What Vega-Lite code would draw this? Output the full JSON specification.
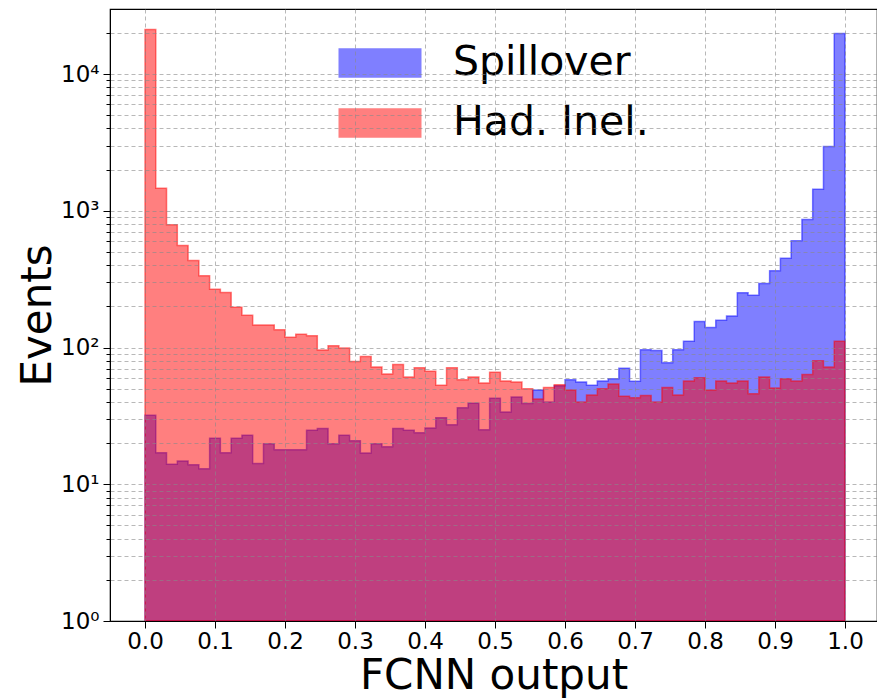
{
  "$schema": "https://vega.github.io/schema/vega-lite/v6.json",
  "width": 767,
  "height": 612,
  "autosize": {"type": "none"},
  "padding": {"left": 110, "top": 9, "right": 0, "bottom": 79},
  "background": "white",
  "config": {
    "font": "DejaVu Sans",
    "view": {"stroke": "#000", "strokeWidth": 1.2}
  },
  "data": {"values": [
    {"x0": 0, "x1": 0.01538, "S": 32, "H": 21200},
    {"x0": 0.01538, "x1": 0.03077, "S": 17, "H": 1460},
    {"x0": 0.03077, "x1": 0.04615, "S": 14, "H": 790},
    {"x0": 0.04615, "x1": 0.06154, "S": 14.8, "H": 557},
    {"x0": 0.06154, "x1": 0.07692, "S": 13.9, "H": 433},
    {"x0": 0.07692, "x1": 0.09231, "S": 13, "H": 335},
    {"x0": 0.09231, "x1": 0.10769, "S": 21.7, "H": 267},
    {"x0": 0.10769, "x1": 0.12308, "S": 17, "H": 253},
    {"x0": 0.12308, "x1": 0.13846, "S": 21.7, "H": 197},
    {"x0": 0.13846, "x1": 0.15385, "S": 22.8, "H": 172},
    {"x0": 0.15385, "x1": 0.16923, "S": 14.2, "H": 146},
    {"x0": 0.16923, "x1": 0.18462, "S": 19.8, "H": 146},
    {"x0": 0.18462, "x1": 0.2, "S": 17.9, "H": 135},
    {"x0": 0.2, "x1": 0.21538, "S": 17.9, "H": 119},
    {"x0": 0.21538, "x1": 0.23077, "S": 17.9, "H": 125},
    {"x0": 0.23077, "x1": 0.24615, "S": 24.8, "H": 122},
    {"x0": 0.24615, "x1": 0.26154, "S": 25.6, "H": 96},
    {"x0": 0.26154, "x1": 0.27692, "S": 19.8, "H": 103},
    {"x0": 0.27692, "x1": 0.29231, "S": 22.8, "H": 99},
    {"x0": 0.29231, "x1": 0.30769, "S": 20.8, "H": 79},
    {"x0": 0.30769, "x1": 0.32308, "S": 16.9, "H": 86},
    {"x0": 0.32308, "x1": 0.33846, "S": 19.8, "H": 72},
    {"x0": 0.33846, "x1": 0.35385, "S": 18.8, "H": 64},
    {"x0": 0.35385, "x1": 0.36923, "S": 25.6, "H": 75},
    {"x0": 0.36923, "x1": 0.38462, "S": 24.8, "H": 61},
    {"x0": 0.38462, "x1": 0.4, "S": 23.8, "H": 71},
    {"x0": 0.4, "x1": 0.41538, "S": 25.8, "H": 67},
    {"x0": 0.41538, "x1": 0.43077, "S": 30.7, "H": 53},
    {"x0": 0.43077, "x1": 0.44615, "S": 27.2, "H": 71},
    {"x0": 0.44615, "x1": 0.46154, "S": 36.3, "H": 58},
    {"x0": 0.46154, "x1": 0.47692, "S": 39.2, "H": 61},
    {"x0": 0.47692, "x1": 0.49231, "S": 25, "H": 55},
    {"x0": 0.49231, "x1": 0.50769, "S": 42.5, "H": 66},
    {"x0": 0.50769, "x1": 0.52308, "S": 33.7, "H": 57},
    {"x0": 0.52308, "x1": 0.53846, "S": 43.4, "H": 56},
    {"x0": 0.53846, "x1": 0.55385, "S": 39, "H": 50},
    {"x0": 0.55385, "x1": 0.56923, "S": 49, "H": 42},
    {"x0": 0.56923, "x1": 0.58462, "S": 40, "H": 51},
    {"x0": 0.58462, "x1": 0.6, "S": 52.5, "H": 53.5},
    {"x0": 0.6, "x1": 0.61538, "S": 58.2, "H": 49},
    {"x0": 0.61538, "x1": 0.63077, "S": 56, "H": 40},
    {"x0": 0.63077, "x1": 0.64615, "S": 53, "H": 45},
    {"x0": 0.64615, "x1": 0.66154, "S": 57, "H": 50},
    {"x0": 0.66154, "x1": 0.67692, "S": 59, "H": 54},
    {"x0": 0.67692, "x1": 0.69231, "S": 70.5, "H": 44},
    {"x0": 0.69231, "x1": 0.70769, "S": 56.7, "H": 43},
    {"x0": 0.70769, "x1": 0.72308, "S": 96.5, "H": 44.5},
    {"x0": 0.72308, "x1": 0.73846, "S": 95, "H": 40},
    {"x0": 0.73846, "x1": 0.75385, "S": 77.5, "H": 51},
    {"x0": 0.75385, "x1": 0.76923, "S": 96.5, "H": 45},
    {"x0": 0.76923, "x1": 0.78462, "S": 111, "H": 57},
    {"x0": 0.78462, "x1": 0.8, "S": 155, "H": 60},
    {"x0": 0.8, "x1": 0.81538, "S": 140, "H": 49},
    {"x0": 0.81538, "x1": 0.83077, "S": 158, "H": 57},
    {"x0": 0.83077, "x1": 0.84615, "S": 170, "H": 55},
    {"x0": 0.84615, "x1": 0.86154, "S": 252, "H": 57},
    {"x0": 0.86154, "x1": 0.87692, "S": 241, "H": 46},
    {"x0": 0.87692, "x1": 0.89231, "S": 294, "H": 61},
    {"x0": 0.89231, "x1": 0.90769, "S": 365, "H": 50.5},
    {"x0": 0.90769, "x1": 0.92308, "S": 449, "H": 59},
    {"x0": 0.92308, "x1": 0.93846, "S": 604, "H": 57},
    {"x0": 0.93846, "x1": 0.95385, "S": 864, "H": 63.5},
    {"x0": 0.95385, "x1": 0.96923, "S": 1440, "H": 80},
    {"x0": 0.96923, "x1": 0.98462, "S": 2946, "H": 72},
    {"x0": 0.98462, "x1": 1, "S": 19800, "H": 111}
  ]},
  "transform": [
    {"fold": ["S", "H"], "as": ["series", "count"]},
    {"fold": ["x0", "x1"], "as": ["key", "edge"]}
  ],
  "encoding": {
    "x": {
      "field": "edge", "type": "quantitative", "title": "FCNN output",
      "scale": {"domain": [-0.05, 1.045714], "nice": false, "zero": false},
      "axis": {
        "values": [0, 0.1, 0.2, 0.3, 0.4, 0.5, 0.6, 0.7, 0.8, 0.9, 1.0],
        "format": ".1f", "labelFontSize": 23, "labelColor": "#000", "labelPadding": 2,
        "tickSize": 7, "tickColor": "#000", "domainColor": "#000", "labelFlush": false,
        "grid": true, "gridColor": "#888", "gridDash": [4, 3], "gridOpacity": 0.6, "gridWidth": 1,
        "titleFontSize": 42, "titleFontWeight": "normal", "titleColor": "#000",
        "titleY": 67, "titleBaseline": "alphabetic", "zindex": 1
      }
    },
    "y": {
      "field": "count", "type": "quantitative", "stack": null, "title": "Events",
      "scale": {"type": "log", "domain": [1, 29900], "nice": false},
      "axis": {
        "values": [1, 2, 3, 4, 5, 6, 7, 8, 9, 10, 20, 30, 40, 50, 60, 70, 80, 90, 100, 200, 300, 400, 500, 600, 700, 800, 900, 1000, 2000, 3000, 4000, 5000, 6000, 7000, 8000, 9000, 10000, 20000],
        "labelExpr": "datum.value == 1 ? '10⁰' : datum.value == 10 ? '10¹' : datum.value == 100 ? '10²' : datum.value == 1000 ? '10³' : datum.value == 10000 ? '10⁴' : ''",
        "labelOverlap": false, "labelFontSize": 23, "labelColor": "#000", "labelPadding": 4,
        "tickSize": {"condition": {"test": "indexof([1,10,100,1000,10000], datum.value) >= 0", "value": 7}, "value": 4},
        "tickColor": "#000", "domainColor": "#000",
        "grid": true, "gridColor": "#888", "gridDash": [4, 3], "gridOpacity": 0.6, "gridWidth": 1,
        "titleFontSize": 42, "titleFontWeight": "normal", "titleColor": "#000",
        "titleX": -60, "titleBaseline": "alphabetic", "zindex": 1
      }
    },
    "order": [{"field": "x0", "type": "quantitative"}, {"field": "key", "type": "ordinal"}],
    "color": {
      "field": "series", "type": "nominal",
      "scale": {"domain": ["S", "H"], "range": ["#0000ff", "#ff0000"]},
      "legend": {
        "orient": "none", "legendX": 240, "legendY": 24, "title": null, "padding": 0,
        "labelExpr": "datum.label == 'S' ? 'Spillover' : 'Had. Inel.'",
        "labelFontSize": 41, "labelColor": "#000", "labelLimit": 400,
        "symbolType": "M-1.4,-0.5H1.4V0.5H-1.4Z", "symbolSize": 3516,
        "symbolOpacity": 0.5, "symbolStrokeWidth": 0,
        "labelOffset": 43, "rowPadding": 10
      }
    }
  },
  "layer": [
    {
      "transform": [{"filter": "datum.series == 'S'"}],
      "mark": {"type": "area", "fillOpacity": 0.5, "stroke": "#0000ff", "strokeOpacity": 0.5, "strokeWidth": 1.5}
    },
    {
      "transform": [{"filter": "datum.series == 'H'"}],
      "mark": {"type": "area", "fillOpacity": 0.5, "stroke": "#ff0000", "strokeOpacity": 0.5, "strokeWidth": 1.5}
    }
  ]
}
